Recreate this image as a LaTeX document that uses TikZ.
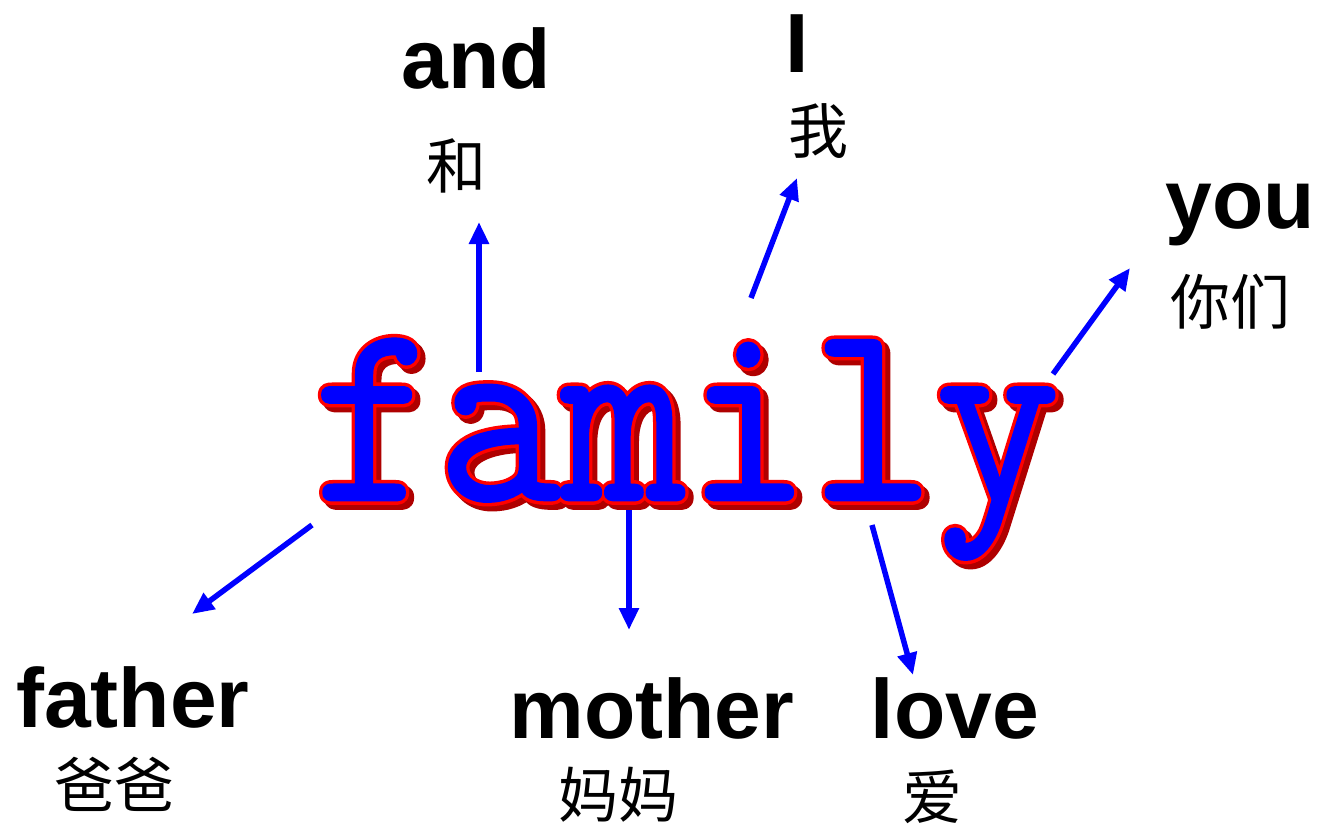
\documentclass[tikz,border=0pt]{standalone}
\usepackage{fontspec}
\setmainfont{Liberation Sans}
\newfontfamily\cjk{Noto Sans CJK SC}
\usetikzlibrary{arrows.meta}
\definecolor{shadowred}{RGB}{175,0,0}
\newcommand\strokedtext[2]{\special{pdf:literal direct #1 w 1 j 2 Tr}#2\special{pdf:literal direct 0 Tr}}
\begin{document}
\begin{tikzpicture}[x=1pt,y=-1pt,
  lab/.style={font=\fontsize{84}{84}\selectfont\bfseries, inner sep=0, anchor=base},
  zh/.style={font=\fontsize{60}{60}\cjk, inner sep=0},
  conn/.style={draw=blue, line width=5.5pt, -{Triangle[length=22pt,width=19pt]}},
  famtxt/.style={font=\fontsize{242}{242}\ttfamily, inner sep=0, anchor=base west},
]
\useasboundingbox (0,0) rectangle (1318,828);
\fill[white] (0,0) rectangle (1318,828);

% family word: shadow, red outline, blue fill
\node[famtxt, text=shadowred] (famshadow) at (317,505) {\scalebox{1}[1.08]{\strokedtext{9}{family}}};
\node[famtxt, text=red] (famoutline) at (312,500) {\scalebox{1}[1.08]{\strokedtext{9}{family}}};
\node[famtxt, text=blue] (family) at (312,500) {\scalebox{1}[1.08]{\strokedtext{2.5}{family}}};

% labels
\node[lab] (and) at (476,88) {and};
\node[zh] (he) at (456,166) {和};
\node[lab] (I) at (797,72) {I};
\node[zh] (wo) at (818,131) {我};
\node[lab] (you) at (1240,228) {you};
\node[zh] (nimen) at (1230,302) {你们};
\node[lab] (father) at (133,727) {father};
\node[zh] (baba) at (114,784) {爸爸};
\node[lab] (mother) at (652,738) {mother};
\node[zh] (mama) at (618,795) {妈妈};
\node[lab] (love) at (955,738) {love};
\node[zh] (ai) at (932,797) {爱};

% arrow end points
\coordinate (andS) at (479,372);
\coordinate (andE) at (479,222);
\coordinate (IS) at (751,298);
\coordinate (IE) at (797,178);
\coordinate (youS) at (1053,374);
\coordinate (youE) at (1130,268);
\coordinate (fatherS) at (312,525);
\coordinate (fatherE) at (192,614);
\coordinate (motherS) at (629,510);
\coordinate (motherE) at (629,630);
\coordinate (loveS) at (872,525);
\coordinate (loveE) at (913,675);

\draw[conn] (andS) -- (andE);
\draw[conn] (IS) -- (IE);
\draw[conn] (youS) -- (youE);
\draw[conn] (fatherS) -- (fatherE);
\draw[conn] (motherS) -- (motherE);
\draw[conn] (loveS) -- (loveE);
\end{tikzpicture}
\end{document}
